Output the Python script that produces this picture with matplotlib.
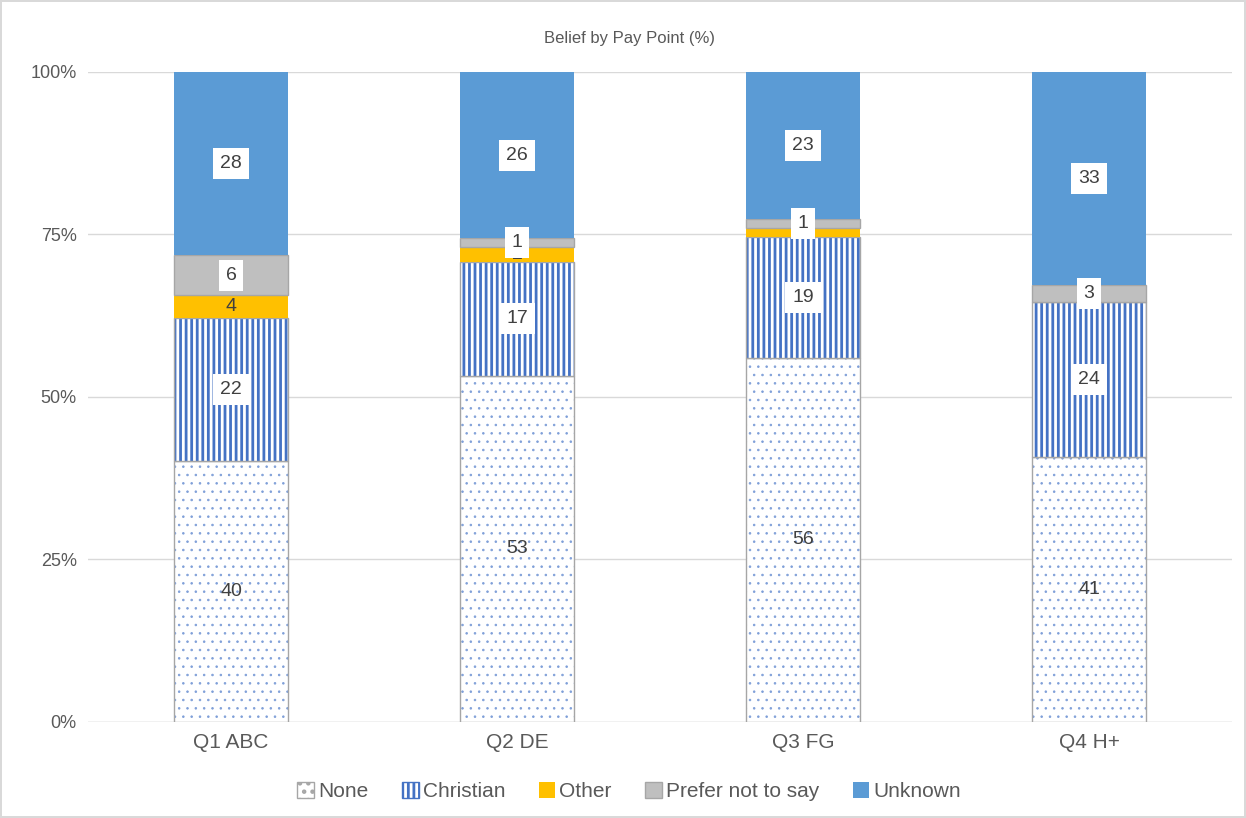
import numpy as np
import matplotlib.pyplot as plt
from matplotlib.patches import Patch

# Данные
categories = ['Q1 ABC', 'Q2 DE', 'Q3 FG', 'Q4 H+']
series = ['None', 'Christian', 'Other', 'Prefer not to say', 'Unknown']
none_vals = [40.2, 53.3, 56.0, 40.8]
christian_vals = [22.0, 17.4, 18.6, 23.8]
other_vals = [3.5, 2.3, 1.4, 0.0]
prefer_vals = [6.1, 1.4, 1.4, 2.6]
unknown_vals = [28.2, 25.6, 22.6, 32.8]

plt.rcParams['font.family'] = ['Liberation Sans', 'DejaVu Sans']

fig = plt.figure(figsize=(12.46, 8.18), dpi=100, edgecolor='#D9D9D9', linewidth=1.5)
ax = fig.add_axes([0.0706, 0.1174, 0.9182, 0.7946])

x = np.arange(len(categories))
w = 0.40
txt = '#404040'
edge = '#A6A6A6'
box = dict(facecolor='white', edgecolor='none', pad=5)

bottom = np.zeros(len(categories))

# None: точки
plt.rcParams['hatch.linewidth'] = 0.6
ax.bar(x, none_vals, w, bottom=bottom, color='white', edgecolor='#7F9FD8', hatch='..', linewidth=0)
ax.bar(x, none_vals, w, bottom=bottom, fill=False, edgecolor=edge, linewidth=1)
for i, v in enumerate(none_vals):
    ax.text(x[i], bottom[i] + v / 2, f'{v:.0f}', ha='center', va='center', fontsize=14, color=txt)
bottom += none_vals

# Christian: вертикальные полосы
plt.rcParams['hatch.linewidth'] = 2.0
ax.bar(x, christian_vals, w, bottom=bottom, color='white', edgecolor='#4472C4', hatch='|||', linewidth=0)
ax.bar(x, christian_vals, w, bottom=bottom, fill=False, edgecolor=edge, linewidth=1)
for i, v in enumerate(christian_vals):
    ax.text(x[i], bottom[i] + v / 2, f'{v:.0f}', ha='center', va='center', fontsize=14, color=txt, bbox=box)
bottom += christian_vals

# Other
ax.bar(x, other_vals, w, bottom=bottom, color='#FFC000', edgecolor='none')
for i, v in enumerate(other_vals):
    if v > 0:
        ax.text(x[i], bottom[i] + v / 2, f'{v:.0f}', ha='center', va='center', fontsize=14, color=txt)
bottom += other_vals

# Prefer not to say
ax.bar(x, prefer_vals, w, bottom=bottom, color='#BFBFBF', edgecolor=edge, linewidth=1)
for i, v in enumerate(prefer_vals):
    ax.text(x[i], bottom[i] + v / 2, f'{v:.0f}', ha='center', va='center', fontsize=14, color=txt, bbox=box)
bottom += prefer_vals

# Unknown
ax.bar(x, unknown_vals, w, bottom=bottom, color='#5B9BD5', edgecolor='none')
for i, v in enumerate(unknown_vals):
    ax.text(x[i], bottom[i] + v / 2, f'{v:.0f}', ha='center', va='center', fontsize=14, color=txt, bbox=box)

ax.set_xlim(-0.5, len(categories) - 0.5)
ax.set_ylim(0, 100)
ax.set_yticks([0, 25, 50, 75, 100])
ax.set_yticklabels(['0%', '25%', '50%', '75%', '100%'], fontsize=13, color='#595959')
ax.set_xticks(x)
ax.set_xticklabels(categories, fontsize=15, color='#595959')
ax.tick_params(length=0, pad=8)
ax.grid(axis='y', color='#D9D9D9', linewidth=1)
ax.set_axisbelow(True)
for s in ax.spines.values():
    s.set_visible(False)
ax.axhline(0, color='#D9D9D9', linewidth=1, zorder=0)

fig.text(0.505, 0.953, 'Belief by Pay Point (%)', ha='center', va='center', fontsize=12, color='#595959')

plt.rcParams['hatch.linewidth'] = 0.6
h_none = Patch(facecolor='white', edgecolor='#A6A6A6', hatch='..')
plt.rcParams['hatch.linewidth'] = 2.0
h_chr = Patch(facecolor='white', edgecolor='#4472C4', hatch='|||')
handles = [
    h_none,
    h_chr,
    Patch(facecolor='#FFC000', edgecolor='none'),
    Patch(facecolor='#BFBFBF', edgecolor='#A6A6A6'),
    Patch(facecolor='#5B9BD5', edgecolor='none'),
]
leg = fig.legend(handles, series, loc='center', bbox_to_anchor=(0.505, 0.032), ncol=5, frameon=False,
                 fontsize=15, handlelength=0.8, handleheight=0.8, handletextpad=0.2, columnspacing=1.6)
for t in leg.get_texts():
    t.set_color('#595959')

plt.savefig('out.png')
